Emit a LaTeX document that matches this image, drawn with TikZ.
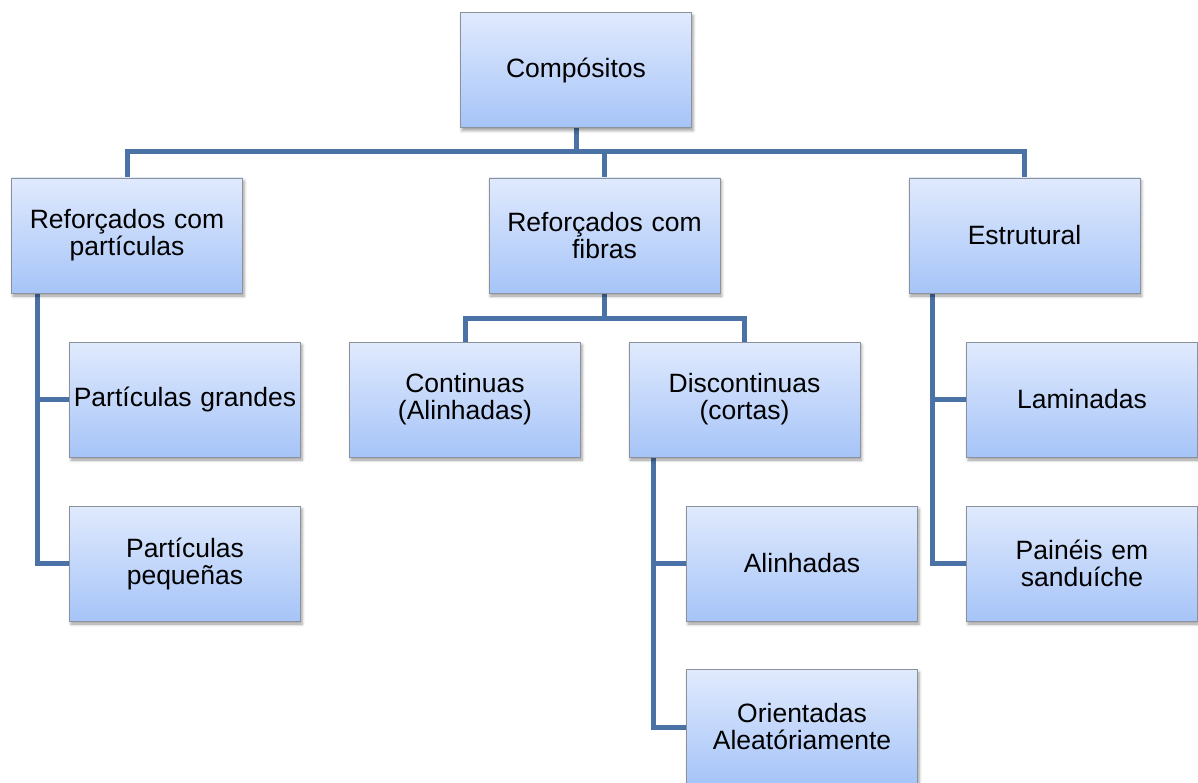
\documentclass[tikz,border=0pt]{standalone}
\usepackage{fontspec}
\setmainfont{Liberation Sans}
\usetikzlibrary{shadows.blur,backgrounds}
\definecolor{boxtop}{HTML}{E0EAFD}
\definecolor{boxbot}{HTML}{A6C4F8}
\definecolor{boxline}{HTML}{8C929C}
\definecolor{linkblue}{HTML}{4A72A6}
\tikzset{
  cbox/.style={rectangle, draw=boxline, line width=0.9pt,
    top color=boxtop, bottom color=boxbot,
    minimum width=231pt, minimum height=115pt, inner sep=2pt,
    text width=225pt, align=center,
    font=\fontsize{26.5}{27}\selectfont,
    blur shadow={shadow xshift=1.5pt, shadow yshift=-3pt,
      shadow blur radius=3pt, shadow opacity=40}},
  conn/.style={draw=linkblue, line width=5pt, line join=miter}
}
\begin{document}
\begin{tikzpicture}[x=1pt,y=-1pt]
\useasboundingbox (0,0) rectangle (1198,783);
% level 0
\node[cbox] (root) at (576,70) {Compósitos};
% level 1
\node[cbox] (rp) at (127,235.5) {Reforçados com\\partículas};
\node[cbox] (rf) at (604.5,235.5) {Reforçados com\\fibras};
\node[cbox] (re) at (1024.5,235.5) {Estrutural};
% particle branch
\node[cbox] (pg) at (185,399.5) {Partículas grandes};
\node[cbox] (pp) at (185,563.5) {Partículas\\pequeñas};
% fibre branch
\node[cbox] (co) at (465,399.5) {Continuas\\(Alinhadas)};
\node[cbox] (di) at (744.5,399.5) {Discontinuas\\(cortas)};
\node[cbox] (al) at (802,563.5) {Alinhadas};
\node[cbox] (or) at (802,727) {Orientadas\\Aleatóriamente};
% structural branch
\node[cbox] (la) at (1082,399.5) {Laminadas};
\node[cbox] (pa) at (1082,563.5) {Painéis em\\sanduíche};

% bus lines and vertical rails
\coordinate (b1) at (0,152);
\coordinate (b2) at (0,318);
\coordinate (lx) at (37,0);
\coordinate (dx) at (653,0);
\coordinate (ex) at (932,0);

\begin{scope}[on background layer]
  \draw[conn] (rp.north) -- (rp.north |- b1) -- (re.north |- b1) -- (re.north);
  \draw[conn] (root.south) -- (root.south |- b1);
  \draw[conn] (rf.north) -- (rf.north |- b1);

  \draw[conn] (rf.south) -- (rf.south |- b2);
  \draw[conn] (co.north) -- (co.north |- b2) -- (di.north |- b2) -- (di.north);

  \draw[conn] (lx |- rp.south) -- (lx |- pp.west) -- (pp.west);
  \draw[conn] (lx |- pg.west) -- (pg.west);

  \draw[conn] (dx |- di.south) -- (dx |- or.west) -- (or.west);
  \draw[conn] (dx |- al.west) -- (al.west);

  \draw[conn] (ex |- re.south) -- (ex |- pa.west) -- (pa.west);
  \draw[conn] (ex |- la.west) -- (la.west);
\end{scope}
\end{tikzpicture}
\end{document}
